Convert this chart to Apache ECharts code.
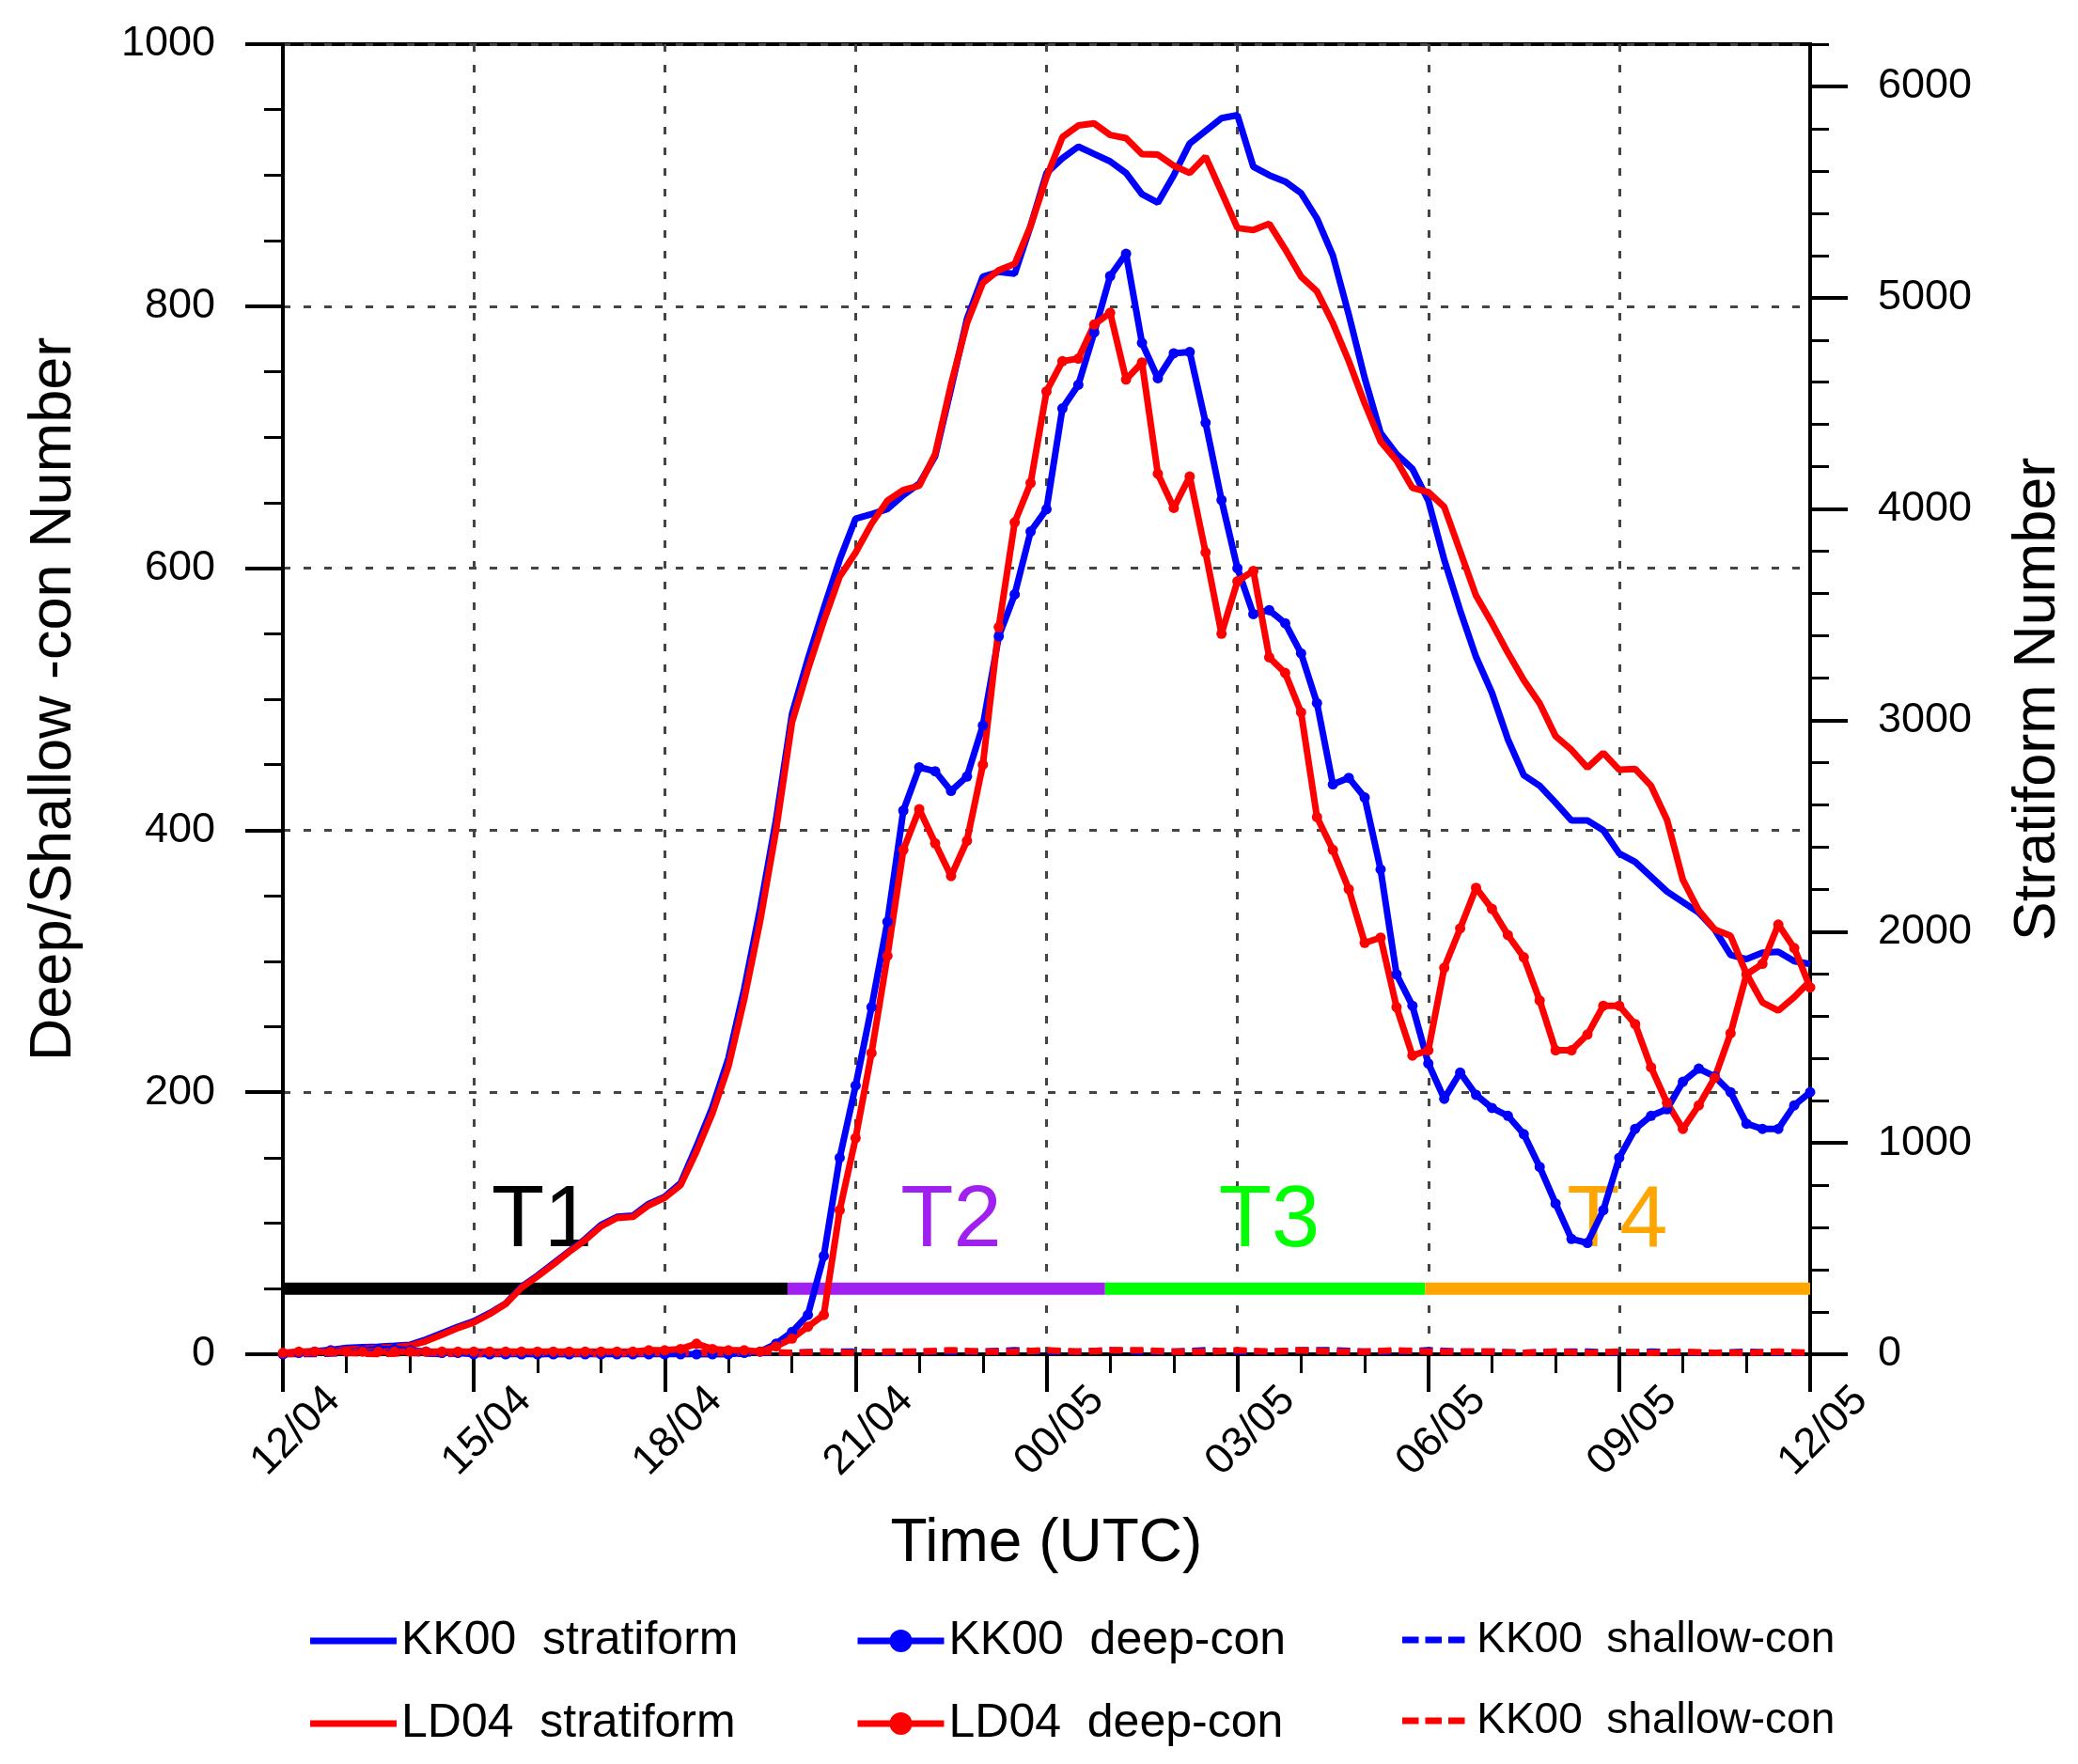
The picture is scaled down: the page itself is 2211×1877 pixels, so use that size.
<!DOCTYPE html>
<html>
<head>
<meta charset="utf-8">
<title>Stratiform / deep / shallow convection numbers</title>
<script src="https://cdn.jsdelivr.net/npm/echarts@6/dist/echarts.min.js"></script>
<style>
  html, body { margin: 0; padding: 0; background: #fff; }
  #chart { width: 2211px; height: 1877px; }
</style>
</head>
<body>
<div id="chart"></div>
<script>
// x axis: days from 12/04, tick every 3 days (labels copied from the figure)
var tickLabels = ['12/04', '15/04', '18/04', '21/04', '00/05', '03/05', '06/05', '09/05', '12/05'];

// sampling grids (every 6 h for stratiform / deep-con, every 12 h for shallow-con)
var t4 = [];
for (var i = 0; i <= 96; i++) t4.push(i / 4);
var t2 = [];
for (var j = 0; j <= 48; j++) t2.push(j / 2);

// stratiform numbers (right axis)
var kkStrat = [5, 10, 15, 20, 30, 33, 36, 40, 45, 70, 100, 130, 156, 195, 240, 320, 372, 430, 488, 545,
  612, 650, 656, 712, 745, 810, 984, 1170, 1400, 1730, 2110, 2530, 3030, 3290, 3530, 3760, 3955, 3976, 4000, 4066,
  4120, 4250, 4570, 4900, 5100, 5122, 5113, 5340, 5590, 5660, 5715, 5680, 5645, 5590, 5490, 5450, 5580, 5730, 5790, 5850,
  5864, 5620, 5580, 5550, 5495, 5375, 5200, 4920, 4620, 4360, 4260, 4190, 4040, 3760, 3520, 3300, 3130, 2910, 2740, 2690,
  2610, 2526, 2526, 2480, 2370, 2330, 2260, 2190, 2140, 2090, 2010, 1890, 1870, 1900, 1905, 1860, 1847];
var ldStrat = [5, 8, 12, 16, 22, 26, 30, 33, 40, 62, 92, 124, 150, 190, 238, 315, 368, 425, 485, 540,
  605, 645, 650, 705, 740, 800, 960, 1140, 1360, 1680, 2050, 2480, 2990, 3240, 3470, 3680, 3794, 3930, 4040, 4090,
  4110, 4260, 4590, 4880, 5070, 5130, 5160, 5340, 5570, 5760, 5815, 5825, 5770, 5755, 5680, 5677, 5625, 5590, 5668, 5500,
  5330, 5320, 5350, 5230, 5100, 5030, 4880, 4700, 4500, 4320, 4230, 4100, 4080, 4010, 3800, 3590, 3460, 3320, 3190, 3080,
  2925, 2860, 2776, 2846, 2766, 2770, 2690, 2530, 2245, 2100, 2010, 1980, 1800, 1665, 1626, 1690, 1767];

// deep-convection numbers (left axis)
var kkDeep = [0, 1, 2, 3, 2, 3, 4, 4, 3, 2, 1, 1, 0, 0, 0, 0, 0, 0, 0, 0,
  0, 0, 0, 0, 0, 0, 0, 0, 0, 1, 2, 8, 17, 30, 75, 150, 205, 265, 330, 415,
  448, 445, 430, 441, 480, 548, 580, 628, 645, 722, 740, 780, 823, 840, 772, 745, 764, 765, 711, 652,
  600, 565, 568, 558, 535, 497, 435, 440, 425, 370, 290, 266, 222, 195, 215, 198, 188, 182, 168, 143,
  115, 88, 85, 110, 150, 172, 182, 187, 208, 218, 212, 200, 176, 172, 172, 190, 200];
var ldDeep = [1, 2, 2, 2, 2, 2, 2, 2, 2, 2, 2, 2, 2, 2, 2, 2, 2, 2, 2, 2,
  2, 2, 2, 3, 3, 4, 8, 4, 3, 3, 2, 6, 12, 21, 30, 110, 165, 230, 304, 385,
  416, 390, 365, 392, 450, 555, 635, 665, 735, 758, 760, 786, 795, 744, 757, 672, 646, 670, 612, 550,
  590, 598, 532, 520, 490, 410, 385, 355, 314, 318, 265, 228, 232, 295, 325, 356, 340, 320, 303, 270,
  232, 232, 244, 266, 266, 252, 219, 192, 172, 190, 211, 245, 290, 298, 328, 310, 280];

// shallow-convection numbers (left axis)
var kkShallow = [0, 0, 1, 1, 1, 0, 1, 1, 0, 0, 1, 1, 1, 0, 0, 1, 1, 2, 2, 1, 2, 2, 2, 3, 2,
  2, 3, 2, 2, 3, 2, 2, 3, 3, 2, 2, 3, 2, 2, 1, 2, 2, 1, 2, 1, 1, 2, 1, 1];
var ldShallow = [0, 1, 1, 0, 1, 1, 0, 1, 1, 1, 0, 1, 1, 1, 1, 2, 1, 2, 1, 2, 2, 3, 2, 2, 3,
  2, 3, 3, 2, 2, 3, 2, 3, 2, 2, 3, 2, 2, 2, 1, 2, 1, 2, 1, 2, 1, 1, 2, 1];

// periods T1..T4 (edges in days)
var periodNames = ['T1', 'T2', 'T3', 'T4'];
var periodEdges = [0, 7.93, 12.92, 17.95, 24];
var periodLabelX = [4.07, 10.5, 15.5, 20.97];
var periodColors = ['#000000', '#a020f0', '#00ff00', '#ffa500'];

var FONT = "'Liberation Sans', Arial, Helvetica, sans-serif";
var BAR_Y = 50, LABEL_Y = 101;
var LW = 7;

function pairs(xs, ys) {
    return xs.map(function (x, k) { return [x, ys[k]]; });
}

var majorRight = [], minorRight = [];
for (var v = 200; v <= 6200; v += 200) {
    if (v % 1000 === 0) majorRight.push(v); else minorRight.push(v);
}
majorRight.unshift(0);

var series = [];

// period bars and labels (drawn under the curves)
periodNames.forEach(function (name, k) {
    series.push({
        name: 'bar' + name,
        type: 'line',
        yAxisIndex: 0,
        z: 1,
        symbol: 'none',
        silent: true,
        lineStyle: { color: periodColors[k], width: 13, cap: 'butt' },
        data: [[periodEdges[k], BAR_Y], [periodEdges[k + 1], BAR_Y]]
    });
});
series.push({
    name: 'periods',
    type: 'scatter',
    yAxisIndex: 0,
    z: 1,
    silent: true,
    symbolSize: 1,
    itemStyle: { color: 'rgba(0,0,0,0)', opacity: 1 },
    data: periodNames.map(function (name, k) {
        return {
            name: name,
            value: [periodLabelX[k], LABEL_Y],
            label: { color: periodColors[k] }
        };
    }),
    label: {
        show: true,
        position: 'inside',
        formatter: '{b}',
        fontSize: 92,
        opacity: 1,
        fontFamily: FONT
    }
});

series.push(
    {
        name: 'KK00  stratiform', type: 'line', yAxisIndex: 1, symbol: 'none',
        lineStyle: { color: '#0000ff', width: LW }, itemStyle: { color: '#0000ff' },
        data: pairs(t4, kkStrat)
    },
    {
        name: 'LD04  stratiform', type: 'line', yAxisIndex: 1, symbol: 'none',
        lineStyle: { color: '#ff0000', width: LW }, itemStyle: { color: '#ff0000' },
        data: pairs(t4, ldStrat)
    },
    {
        name: 'KK00  deep-con', type: 'line', yAxisIndex: 0, symbol: 'circle', symbolSize: 11,
        showAllSymbol: true,
        lineStyle: { color: '#0000ff', width: LW }, itemStyle: { color: '#0000ff' },
        data: pairs(t4, kkDeep)
    },
    {
        name: 'LD04  deep-con', type: 'line', yAxisIndex: 0, symbol: 'circle', symbolSize: 11,
        showAllSymbol: true,
        lineStyle: { color: '#ff0000', width: LW }, itemStyle: { color: '#ff0000' },
        data: pairs(t4, ldDeep)
    },
    {
        name: 'KK00  shallow-con', type: 'line', yAxisIndex: 0, symbol: 'none',
        lineStyle: { color: '#0000ff', width: LW, type: [14, 8] }, itemStyle: { color: '#0000ff' },
        data: pairs(t2, kkShallow)
    },
    {
        // the figure labels this red curve "KK00 shallow-con" as well
        name: 'KK00  shallow-con ', type: 'line', yAxisIndex: 0, symbol: 'none',
        lineStyle: { color: '#ff0000', width: LW, type: [14, 8] }, itemStyle: { color: '#ff0000' },
        data: pairs(t2, ldShallow)
    }
);

var gridLine = { show: true, lineStyle: { color: '#444', width: 3, type: [8, 14] } };
var axisLine = { show: true, lineStyle: { color: '#000', width: 4 } };

var solidIcon = 'rect';
var dashIcon = 'path://M0,0H10V4H0Z M14,0H24V4H14Z M28,0H38V4H28Z';

function legendAt(left, items, width, height, fontSize) {
    return {
        orient: 'vertical',
        left: left,
        top: 1716,
        itemWidth: width,
        itemHeight: height,
        itemGap: 38,
        selectedMode: false,
        data: items,
        lineStyle: { width: LW },
        textStyle: { color: '#000', fontSize: fontSize, fontFamily: FONT, lineHeight: 48 }
    };
}

var option = {
    backgroundColor: '#fff',
    animation: false,
    textStyle: { fontFamily: FONT },
    grid: {
        left: 301, right: 285, top: 47, bottom: 436,
        show: true, borderColor: '#000', borderWidth: 4, backgroundColor: 'transparent'
    },
    legend: [
        legendAt(325, [
            { name: 'KK00  stratiform', icon: solidIcon },
            { name: 'LD04  stratiform', icon: solidIcon }
        ], 92, LW, 50),
        legendAt(904, ['KK00  deep-con', 'LD04  deep-con'], 92, 30, 50),
        legendAt(1487, [
            { name: 'KK00  shallow-con', icon: dashIcon },
            { name: 'KK00  shallow-con ', icon: dashIcon }
        ], 82, LW, 46)
    ],
    xAxis: {
        type: 'value',
        min: 0, max: 24, interval: 3,
        name: 'Time (UTC)',
        nameLocation: 'middle',
        nameGap: 170,
        nameTextStyle: { fontSize: 64, color: '#000', fontFamily: FONT },
        axisLine: axisLine,
        axisTick: { show: true, length: 40, lineStyle: { color: '#000', width: 4 } },
        minorTick: { show: true, splitNumber: 3, length: 20, lineStyle: { color: '#000', width: 3 } },
        splitLine: gridLine,
        axisLabel: {
            rotate: 45,
            align: 'center',
            margin: 96,
            padding: [0, 0, 0, 40],
            fontSize: 45,
            color: '#000',
            fontFamily: FONT,
            formatter: function (val) { return tickLabels[Math.round(val / 3)]; }
        }
    },
    yAxis: [
        {
            type: 'value',
            position: 'left',
            min: 0, max: 1000, interval: 200,
            name: 'Deep/Shallow -con Number',
            nameLocation: 'middle',
            nameRotate: 90,
            nameGap: 212,
            nameTextStyle: { fontSize: 63, color: '#000', fontFamily: FONT },
            axisLine: axisLine,
            axisTick: { show: true, length: 40, lineStyle: { color: '#000', width: 4 } },
            minorTick: { show: true, splitNumber: 4, length: 20, lineStyle: { color: '#000', width: 3 } },
            splitLine: gridLine,
            axisLabel: {
                margin: 72, fontSize: 45, color: '#000', fontFamily: FONT,
                formatter: function (val) { return String(val); }
            }
        },
        {
            type: 'value',
            position: 'right',
            min: 0, max: 6200, interval: 1000,
            name: 'Stratiform Number',
            nameLocation: 'middle',
            nameRotate: 90,
            nameGap: 211,
            nameTextStyle: { fontSize: 63, color: '#000', fontFamily: FONT },
            axisLine: axisLine,
            axisTick: { show: true, length: 40, customValues: majorRight, lineStyle: { color: '#000', width: 4 } },
            splitLine: { show: false },
            axisLabel: {
                margin: 72, fontSize: 45, color: '#000', fontFamily: FONT, customValues: majorRight,
                formatter: function (val) { return val % 1000 === 0 ? String(val) : ''; }
            }
        },
        {
            // minor ticks of the stratiform axis
            type: 'value',
            position: 'right',
            min: 0, max: 6200, interval: 200,
            axisLine: { show: false },
            axisTick: { show: true, length: 20, customValues: minorRight, lineStyle: { color: '#000', width: 3 } },
            splitLine: { show: false },
            axisLabel: { show: false }
        }
    ],
    series: series
};

var myChart = echarts.init(document.getElementById('chart'));
myChart.setOption(option);
</script>
</body>
</html>
